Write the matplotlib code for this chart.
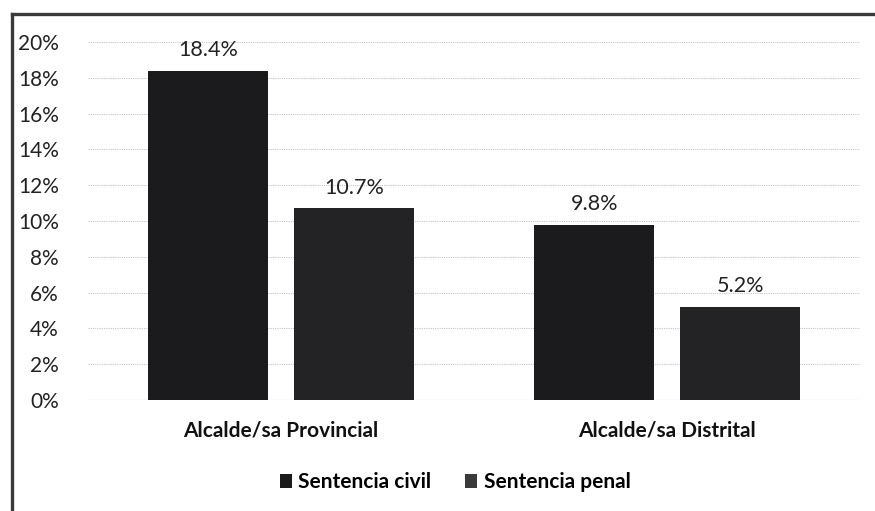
import matplotlib
matplotlib.use("Agg")
import matplotlib.pyplot as plt
from matplotlib.lines import Line2D
from matplotlib.patches import Patch
import numpy as np

categories = ["Alcalde/sa Provincial", "Alcalde/sa Distrital"]
series_names = ["Sentencia civil", "Sentencia penal"]
civil = [18.4, 9.8]
penal = [10.7, 5.2]
yticks = [0, 2, 4, 6, 8, 10, 12, 14, 16, 18, 20]

plt.rcParams['font.family'] = ['Lato', 'DejaVu Sans']

fig = plt.figure(figsize=(8.75, 5.11), dpi=100)
ax = fig.add_axes([0.1006, 0.2172, 0.8824, 0.7008])

x = np.arange(len(categories))
w = 0.31
off = 0.189
colors = ["#1b1b1d", "#232325"]
b1 = ax.bar(x - off, civil, w, color=colors[0], zorder=3)
b2 = ax.bar(x + off, penal, w, color=colors[1], zorder=3)

for bars, vals in ((b1, civil), (b2, penal)):
    for r, v in zip(bars, vals):
        ax.annotate(f"{v:.1f}%", (r.get_x() + r.get_width() / 2, v),
                    xytext=(0, 15), textcoords="offset points",
                    ha="center", va="center", fontsize=15.5, color="#222222")

ax.set_xlim(-0.5, 1.5)
ax.set_ylim(0, 20)
ax.set_yticks(yticks)
ax.set_yticklabels([f"{t}%" for t in yticks], fontsize=15, color="#222222")
ax.set_xticks(x)
ax.set_xticklabels(categories, fontsize=15, fontweight="bold", color="#111111")
ax.tick_params(axis="y", length=0, pad=21)
ax.tick_params(axis="x", length=0, pad=15)
ax.grid(axis="y", color="#c4c4c4", linestyle=(0, (1, 1)), linewidth=0.8, zorder=0)
for s in ax.spines.values():
    s.set_visible(False)
ax.axhline(0, color="#bdbdbd", linewidth=0.8, linestyle=(0, (1, 1)), zorder=2)

handles = [Patch(facecolor=colors[0]), Patch(facecolor="#3a3a3c")]
leg = fig.legend(handles, series_names, loc="center", bbox_to_anchor=(0.52, 0.056),
                 ncol=2, frameon=False, handlelength=0.6, handleheight=0.6,
                 handletextpad=0.3, columnspacing=1.6,
                 prop={'family': ['Lato', 'DejaVu Sans'], 'weight': 'bold', 'size': 15})

# Frame: left and top border
fig.add_artist(Line2D([12/875, 12/875], [0, 1 - 14/511], transform=fig.transFigure,
                      color="#3a3a3a", linewidth=2.4))
fig.add_artist(Line2D([12/875, 1], [1 - 14/511, 1 - 14/511], transform=fig.transFigure,
                      color="#3a3a3a", linewidth=2.4))

fig.savefig("out.png", dpi=100)
